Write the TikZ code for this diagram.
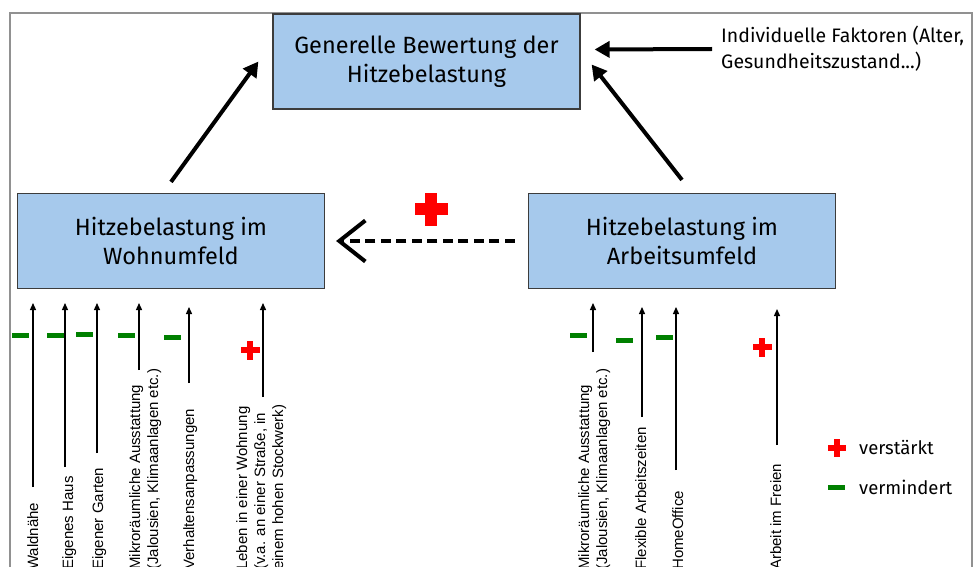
\documentclass[tikz,border=0pt]{standalone}
\usepackage{fontspec}
\setmainfont{Fira Sans}
\newfontfamily\arialf{Liberation Sans}
\usetikzlibrary{arrows.meta}
\definecolor{boxblue}{RGB}{166,201,236}
\definecolor{boxline}{RGB}{60,60,60}
\definecolor{framegray}{RGB}{145,145,145}
\definecolor{plusred}{RGB}{255,0,0}
\definecolor{minusgreen}{RGB}{0,128,0}
\tikzset{
  mainbox/.style={draw=boxline, line width=1.2pt, fill=boxblue, minimum width=307pt, minimum height=95pt, align=center, font=\fontsize{23.5}{29.5}\selectfont, inner sep=0pt},
  bigarrow/.style={line width=4pt, -{Triangle[length=15pt,width=16pt]}},
  smallarrow/.style={line width=1.3pt, -{Triangle[length=7pt,width=6pt]}},
  factor/.style={rotate=90, anchor=north west, align=left, inner sep=0pt, font=\arialf\fontsize{15}{18}\selectfont},
  minussign/.style={fill=minusgreen, minimum width=17pt, minimum height=5pt, inner sep=0pt},
  legendtext/.style={anchor=west, inner sep=0pt, font=\fontsize{18.5}{22}\selectfont},
  plusmark/.pic={
    \fill[plusred] (-0.5,-0.17) rectangle (0.5,0.17);
    \fill[plusred] (-0.17,-0.5) rectangle (0.17,0.5);
  }
}
\begin{document}
\begin{tikzpicture}[x=1pt,y=-1pt]
\useasboundingbox (0,0) rectangle (979,567);
\clip (0,0) rectangle (979,567);
% outer frame
\draw[framegray, line width=1.6pt] (10,13) rectangle (972,620);

% main boxes
\node[mainbox] (tbox) at (426.5,61.5) {Generelle Bewertung der\\Hitzebelastung};
\node[mainbox] (lbox) at (171,241) {Hitzebelastung im\\Wohnumfeld};
\node[mainbox] (rbox) at (682,241) {Hitzebelastung im\\Arbeitsumfeld};
\node[anchor=west, align=left, inner sep=0pt, font=\fontsize{19.5}{26}\selectfont] (indiv) at (721,49) {Individuelle Faktoren (Alter,\\Gesundheitszustand...)};

% main arrows
\draw[bigarrow] ([yshift=11pt]lbox.north) -- ([xshift=-14pt]tbox.west);
\draw[bigarrow] ([yshift=13pt]rbox.north) -- ([xshift=11pt,yshift=-3pt]tbox.east);
\draw[bigarrow] ([xshift=-9pt]indiv.west) -- ([xshift=14pt,yshift=12pt]tbox.east);
\draw[line width=4pt, dash pattern=on 10pt off 5.5pt, -{Straight Barb[length=26pt,width=41pt,line width=4pt]}, shorten <=13pt, shorten >=11pt] (rbox.west) -- (lbox.east);
\pic[scale=33] (bigplus) at (431,209) {plusmark};

% factors: Wohnumfeld
\node[factor] (f1) at (27,570) {Waldnähe};
\node[factor] (f2) at (62,570) {Eigenes Haus};
\node[factor] (f3) at (92,570) {Eigener Garten};
\node[factor] (f4) at (129,570) {Mikroräumliche Ausstattung\\(Jalousien, Klimaanlagen etc.)};
\node[factor] (f5) at (183,570) {Verhaltensanpassungen};
\node[factor] (f6) at (236,570) {Leben in einer Wohnung\\(v.a. an einer Straße, in\\einem hohen Stockwerk)};
% factors: Arbeitsumfeld
\node[factor] (g1) at (578,570) {Mikroräumliche Ausstattung\\(Jalousien, Klimaanlagen etc.)};
\node[factor] (g2) at (635,570) {Flexible Arbeitszeiten};
\node[factor] (g3) at (672,570) {HomeOffice};
\node[factor] (g4) at (770,570) {Arbeit im Freien};

% factor arrows
\coordinate (f1b) at (33,487);  \coordinate (f1t) at (33,303);
\coordinate (f2b) at (65,467);  \coordinate (f2t) at (65,303);
\coordinate (f3b) at (97,453);  \coordinate (f3t) at (97,303);
\coordinate (f4b) at (139,370); \coordinate (f4t) at (139,303);
\coordinate (f5b) at (189,383); \coordinate (f5t) at (189,307);
\coordinate (f6b) at (263,397); \coordinate (f6t) at (263,303);
\coordinate (g1b) at (593,352); \coordinate (g1t) at (593,303);
\coordinate (g2b) at (642,417); \coordinate (g2t) at (642,307);
\coordinate (g3b) at (676,470); \coordinate (g3t) at (676,307);
\coordinate (g4b) at (777,445); \coordinate (g4t) at (777,309);
\foreach \a in {f1,f2,f3,f4,f5,f6,g1,g2,g3,g4}
  \draw[smallarrow] (\a b) -- (\a t);

% signs
\node[minussign] (m1) at (20,335) {};
\node[minussign] (m2) at (55,335) {};
\node[minussign] (m3) at (84,334) {};
\node[minussign] (m4) at (126,335) {};
\node[minussign] (m5) at (172,337) {};
\pic[scale=19] (p1) at (250,350) {plusmark};
\node[minussign] (m6) at (578,335) {};
\node[minussign] (m7) at (624,340) {};
\node[minussign] (m8) at (664,337) {};
\pic[scale=19] (p2) at (762,347) {plusmark};

% legend
\pic[scale=18] (lp) at (837,448) {plusmark};
\node[legendtext] (lpt) at (859,448) {verstärkt};
\node[minussign] (lm) at (836,487) {};
\node[legendtext] (lmt) at (859,487) {vermindert};
\end{tikzpicture}
\end{document}
